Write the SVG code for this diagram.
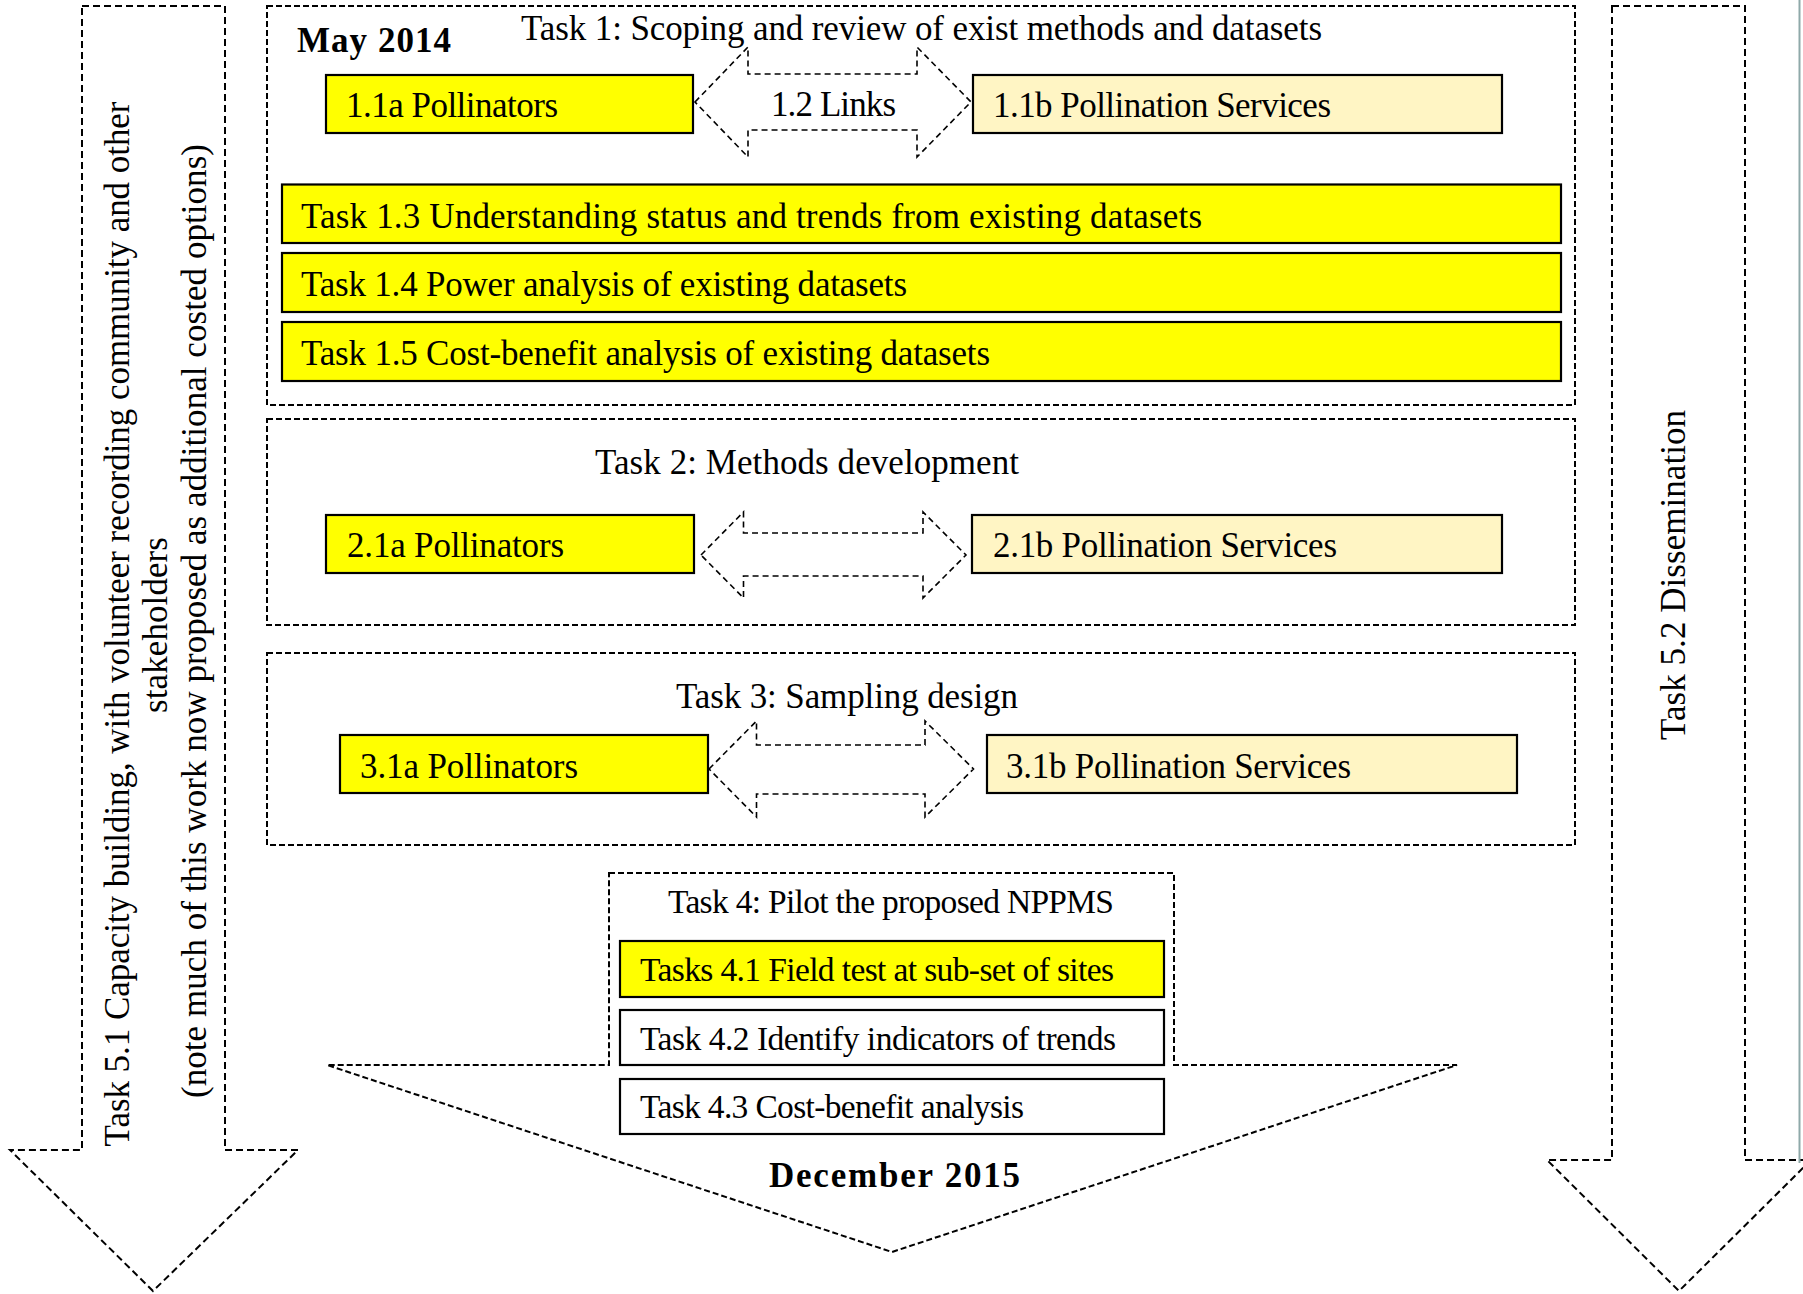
<svg xmlns="http://www.w3.org/2000/svg" width="1803" height="1294" viewBox="0 0 1803 1294">
  <style>
    text { font-family: "Liberation Serif", "Times New Roman", serif; font-size: 35px; fill: #000; }
    .bold { font-weight: bold; }
    .small { font-size: 33.5px; }
    .frame { fill: none; stroke: #000; stroke-width: 2; stroke-dasharray: 6 3; }
    .bigarrow { fill: #fff; stroke: #000; stroke-width: 2; stroke-dasharray: 7 4; }
    .link { fill: #fff; stroke: #000; stroke-width: 1.6; stroke-dasharray: 6 4; }
    .box { stroke: #000; stroke-width: 2.2; }
    .yellow { fill: #ffff00; }
    .pale { fill: #fff5c4; }
    .white { fill: #fff; }
  </style>

  <rect x="0" y="0" width="1803" height="1294" fill="#fff"/>

  <!-- side arrows: capacity building and dissemination -->
  <g id="task5-1">
    <polygon class="bigarrow" points="82,6 225,6 225,1150 298,1150 153,1291 10,1150 82,1150"/>
    <text transform="translate(129,624) rotate(-90)" text-anchor="middle" textLength="1045" lengthAdjust="spacing">Task 5.1 Capacity building, with volunteer recording community and other</text>
    <text transform="translate(167,625) rotate(-90)" text-anchor="middle" textLength="176" lengthAdjust="spacing">stakeholders</text>
    <text transform="translate(206,621) rotate(-90)" text-anchor="middle" textLength="954" lengthAdjust="spacing">(note much of this work now proposed as additional costed options)</text>
  </g>

  <g id="task5-2">
    <polygon class="bigarrow" points="1612,6 1745,6 1745,1160 1811,1160 1679,1291 1547,1160 1612,1160"/>
    <text transform="translate(1685,575) rotate(-90)" text-anchor="middle" textLength="330" lengthAdjust="spacing">Task 5.2 Dissemination</text>
  </g>

  <line x1="1799.5" y1="0" x2="1799.5" y2="1163" stroke="#8fa9a9" stroke-width="2"/>

  <!-- Task 1 -->
  <g id="task1">
    <rect class="frame" x="267" y="6" width="1308" height="399"/>
    <text class="bold" x="297" y="52" textLength="154" lengthAdjust="spacing">May 2014</text>
    <text x="521" y="40" textLength="801" lengthAdjust="spacing">Task 1: Scoping and review of exist methods and datasets</text>
  </g>
  <g id="task1-1a">
    <rect class="box yellow" x="326" y="75" width="367" height="58"/>
    <text x="346" y="116.5" textLength="212" lengthAdjust="spacing">1.1a Pollinators</text>
  </g>
  <g id="task1-1b">
    <rect class="box pale" x="973" y="75" width="529" height="58"/>
    <text x="993" y="116.5" textLength="338" lengthAdjust="spacing">1.1b Pollination Services</text>
  </g>
  <g id="task1-3">
    <rect class="box yellow" x="282" y="184.5" width="1279" height="58.5"/>
    <text x="301" y="227.5" textLength="901" lengthAdjust="spacing">Task 1.3 Understanding status and trends from existing datasets</text>
  </g>
  <g id="task1-4">
    <rect class="box yellow" x="282" y="253" width="1279" height="59"/>
    <text x="301" y="295.5" textLength="606" lengthAdjust="spacing">Task 1.4 Power analysis of existing datasets</text>
  </g>
  <g id="task1-5">
    <rect class="box yellow" x="282" y="322" width="1279" height="59"/>
    <text x="301" y="364.5" textLength="689" lengthAdjust="spacing">Task 1.5 Cost-benefit analysis of existing datasets</text>
  </g>

  <!-- Task 2 -->
  <g id="task2">
    <rect class="frame" x="267" y="419" width="1308" height="206"/>
    <text x="595" y="473.5" textLength="424" lengthAdjust="spacing">Task 2: Methods development</text>
  </g>
  <g id="task2-1a">
    <rect class="box yellow" x="326" y="515" width="368" height="58"/>
    <text x="347" y="556.5" textLength="217" lengthAdjust="spacing">2.1a Pollinators</text>
  </g>
  <g id="task2-1b">
    <rect class="box pale" x="972" y="515" width="530" height="58"/>
    <text x="993" y="556.5" textLength="344" lengthAdjust="spacing">2.1b Pollination Services</text>
  </g>

  <!-- Task 3 -->
  <g id="task3">
    <rect class="frame" x="267" y="653" width="1308" height="192"/>
    <text x="676" y="707.5" textLength="342" lengthAdjust="spacing">Task 3: Sampling design</text>
  </g>
  <g id="task3-1a">
    <rect class="box yellow" x="340" y="735" width="368" height="58"/>
    <text x="360" y="777.5" textLength="218" lengthAdjust="spacing">3.1a Pollinators</text>
  </g>
  <g id="task3-1b">
    <rect class="box pale" x="987" y="735" width="530" height="58"/>
    <text x="1006" y="777.5" textLength="345" lengthAdjust="spacing">3.1b Pollination Services</text>
  </g>

  <!-- Task 4 frame merged with the timeline arrow -->
  <g id="task4">
    <polygon class="frame" points="609,873 1174,873 1174,1065 1457,1065 892,1252 327,1065 609,1065"/>
    <text class="small" x="668" y="912.5" textLength="446" lengthAdjust="spacing">Task 4: Pilot the proposed NPPMS</text>
    <text class="bold" x="769" y="1186.5" textLength="251" lengthAdjust="spacing">December 2015</text>
  </g>
  <g id="task4-1">
    <rect class="box yellow" x="620" y="941" width="544" height="56"/>
    <text class="small" x="640" y="980.5" textLength="474" lengthAdjust="spacing">Tasks 4.1 Field test at sub-set of sites</text>
  </g>
  <g id="task4-2">
    <rect class="box white" x="620" y="1010" width="544" height="55"/>
    <text class="small" x="640" y="1049.5" textLength="476" lengthAdjust="spacing">Task 4.2 Identify indicators of trends</text>
  </g>
  <g id="task4-3">
    <rect class="box white" x="620" y="1079" width="544" height="55"/>
    <text class="small" x="640" y="1117.5" textLength="384" lengthAdjust="spacing">Task 4.3 Cost-benefit analysis</text>
  </g>

  <!-- two-way links between pollinators and pollination services -->
  <g id="connectors">
    <polygon class="link" points="695,102 748,47 748,74 917,74 917,47 971,102 917,157 917,130 748,130 748,157"/>
    <text x="771" y="115.5" textLength="125" lengthAdjust="spacing">1.2 Links</text>
    <polygon class="link" points="701,555 743.5,512 743.5,533 923,533 923,512 966,555 923,598 923,576 743.5,576 743.5,598"/>
    <polygon class="link" points="709,769 756.5,721 756.5,745 925,745 925,721 973.5,769 925,817 925,794 756.5,794 756.5,817"/>
  </g>
</svg>
